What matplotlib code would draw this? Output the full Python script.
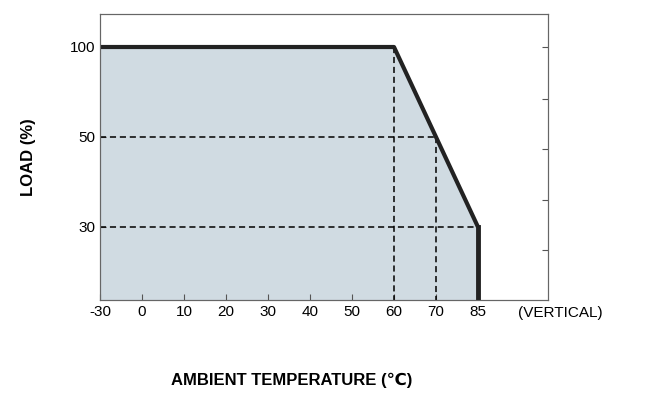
import matplotlib
matplotlib.use('Agg')
import matplotlib.pyplot as plt
import numpy as np

plt.rcParams['font.family'] = ['Liberation Sans', 'DejaVu Sans']

# tick values (axis is evenly spaced per label, not linear)
x_ticks = [-30, 0, 10, 20, 30, 40, 50, 60, 70, 85]
y_ticks = [30, 50, 100]

# derating curve
temps = [-30, 60, 70, 85]
loads = [100, 100, 50, 30]

def xp(t):
    return np.interp(t, x_ticks, np.arange(len(x_ticks)))

def yp(v):
    return np.interp(v, y_ticks, [1, 2, 3])

fig = plt.figure(figsize=(6.45, 4.09), dpi=100)
ax = fig.add_axes([100/645, 109/409, 448/645, 286/409])
x0, x1 = 0, 448/42
y0, y1 = 1 - 73/90, 3 + 33/90
ax.set_xlim(x0, x1)
ax.set_ylim(y0, y1)

px = xp(temps)
py = yp(loads)
ax.fill_between(px, py, y0, color='#d0dbe2', zorder=1)
ax.plot(px, py, color='#222222', lw=3, solid_capstyle='butt', zorder=3)
ax.plot([px[-1], px[-1]], [py[-1], y0], color='#222222', lw=3.5, zorder=3)

dash = dict(color='black', lw=1.1, ls=(0, (4, 2.5)), zorder=2)
ax.plot([xp(60), xp(60)], [yp(100), y0], **dash)
ax.plot([x0, xp(70)], [yp(50), yp(50)], **dash)
ax.plot([xp(70), xp(70)], [yp(50), y0], **dash)
ax.plot([x0, xp(85)], [yp(30), yp(30)], **dash)

ax.set_xticks(xp(x_ticks))
ax.set_xticklabels([str(t) for t in x_ticks], fontsize=11)
ax.set_yticks(yp(y_ticks))
ax.set_yticklabels([str(v) for v in y_ticks], fontsize=11)
ax.tick_params(direction='in', length=4, color='#555555')

ax2 = ax.twinx()
ax2.set_ylim(y0, y1)
ax2.set_yticks([y0 + (300 - p) / 90 for p in [47, 99, 149, 200, 250]])
ax2.set_yticklabels([])
ax2.tick_params(direction='in', length=4, color='#555555')

for a in (ax, ax2):
    for s in a.spines.values():
        s.set_color('#666666')
        s.set_linewidth(0.8)

fig.text(518/645, 1 - 313/409, '(VERTICAL)', fontsize=11, va='center', ha='left')
ax.set_ylabel('LOAD (%)', fontsize=12, fontweight='bold', labelpad=24)
fig.text(292/645, 1 - 380/409, 'AMBIENT TEMPERATURE (℃)', fontsize=12,
         fontweight='bold', ha='center', va='center',
         family=['Liberation Sans', 'DejaVu Sans'])

fig.savefig('out.png', dpi=100)
